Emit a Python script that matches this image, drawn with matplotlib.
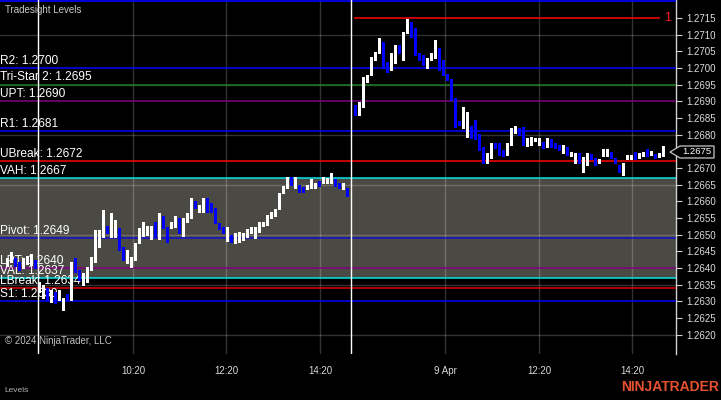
import numpy as np
import matplotlib.pyplot as plt
from matplotlib.patches import Polygon

plt.rcParams['font.family'] = ['Liberation Sans', 'DejaVu Sans']

# --- bars (5 min), tail of previous session ---
prev_open = [1.26412, 1.26424, 1.26427, 1.26415, 1.26406, 1.26418, 1.26415, 1.26421]
prev_high = [1.26430, 1.26448, 1.26430, 1.26418, 1.26430, 1.26436, 1.26442, 1.26424]
prev_low = [1.26406, 1.26418, 1.26406, 1.26394, 1.26400, 1.26412, 1.26409, 1.26400]
prev_close = [1.26424, 1.26442, 1.26412, 1.26400, 1.26424, 1.26433, 1.26436, 1.26406]

# --- session 8 Apr ---
d1_open = [1.26334, 1.26316, 1.26337, 1.26307, 1.26325, 1.26307, 1.26286, 1.26319, 1.26310, 1.26418,
           1.26391, 1.26358, 1.26367, 1.26400, 1.26430, 1.26478, 1.26508, 1.26520, 1.26505, 1.26508,
           1.26511, 1.26460, 1.26430, 1.26418, 1.26436, 1.26481, 1.26508, 1.26508, 1.26496, 1.26532,
           1.26502, 1.26550, 1.26520, 1.26523, 1.26529, 1.26547, 1.26508, 1.26541, 1.26559, 1.26598,
           1.26574, 1.26580, 1.26604, 1.26589, 1.26577, 1.26532, 1.26520, 1.26505, 1.26496, 1.26487,
           1.26490, 1.26493, 1.26502, 1.26511, 1.26502, 1.26517, 1.26529, 1.26535, 1.26553, 1.26562,
           1.26580, 1.26628, 1.26643, 1.26667, 1.26649, 1.26646, 1.26640, 1.26640, 1.26646, 1.26646,
           1.26658, 1.26658, 1.26658, 1.26661, 1.26664, 1.26652, 1.26640, 1.26637]
d1_high = [1.26358, 1.26349, 1.26340, 1.26334, 1.26328, 1.26334, 1.26310, 1.26322, 1.26418, 1.26430,
           1.26394, 1.26385, 1.26403, 1.26433, 1.26514, 1.26514, 1.26574, 1.26526, 1.26565, 1.26544,
           1.26520, 1.26463, 1.26454, 1.26433, 1.26475, 1.26520, 1.26538, 1.26526, 1.26526, 1.26538,
           1.26565, 1.26556, 1.26523, 1.26538, 1.26556, 1.26550, 1.26550, 1.26565, 1.26610, 1.26601,
           1.26589, 1.26610, 1.26610, 1.26595, 1.26580, 1.26535, 1.26523, 1.26523, 1.26499, 1.26505,
           1.26508, 1.26505, 1.26517, 1.26523, 1.26523, 1.26538, 1.26538, 1.26559, 1.26568, 1.26577,
           1.26625, 1.26646, 1.26673, 1.26673, 1.26673, 1.26649, 1.26643, 1.26649, 1.26667, 1.26655,
           1.26661, 1.26673, 1.26670, 1.26685, 1.26667, 1.26655, 1.26655, 1.26640]
d1_low = [1.26328, 1.26310, 1.26304, 1.26298, 1.26295, 1.26304, 1.26274, 1.26304, 1.26304, 1.26388,
          1.26364, 1.26349, 1.26358, 1.26394, 1.26418, 1.26463, 1.26493, 1.26505, 1.26493, 1.26493,
          1.26454, 1.26424, 1.26415, 1.26403, 1.26424, 1.26475, 1.26496, 1.26499, 1.26487, 1.26496,
          1.26487, 1.26520, 1.26478, 1.26520, 1.26523, 1.26505, 1.26496, 1.26538, 1.26550, 1.26580,
          1.26568, 1.26568, 1.26568, 1.26568, 1.26535, 1.26517, 1.26505, 1.26481, 1.26478, 1.26475,
          1.26478, 1.26484, 1.26493, 1.26505, 1.26490, 1.26508, 1.26526, 1.26529, 1.26550, 1.26556,
          1.26577, 1.26625, 1.26640, 1.26649, 1.26640, 1.26628, 1.26628, 1.26637, 1.26640, 1.26640,
          1.26646, 1.26655, 1.26655, 1.26655, 1.26646, 1.26640, 1.26637, 1.26616]
d1_close = [1.26352, 1.26340, 1.26310, 1.26328, 1.26301, 1.26328, 1.26304, 1.26307, 1.26400, 1.26394,
            1.26370, 1.26376, 1.26394, 1.26424, 1.26496, 1.26502, 1.26550, 1.26508, 1.26544, 1.26532,
            1.26466, 1.26430, 1.26445, 1.26430, 1.26466, 1.26508, 1.26526, 1.26520, 1.26517, 1.26502,
            1.26550, 1.26526, 1.26505, 1.26535, 1.26550, 1.26514, 1.26541, 1.26559, 1.26598, 1.26583,
            1.26586, 1.26604, 1.26574, 1.26571, 1.26541, 1.26520, 1.26508, 1.26514, 1.26484, 1.26499,
            1.26502, 1.26502, 1.26514, 1.26520, 1.26520, 1.26532, 1.26535, 1.26553, 1.26565, 1.26574,
            1.26619, 1.26643, 1.26667, 1.26652, 1.26667, 1.26631, 1.26631, 1.26646, 1.26661, 1.26652,
            1.26649, 1.26667, 1.26664, 1.26670, 1.26649, 1.26640, 1.26649, 1.26619]

# --- session 9 Apr ---
d2_open = [1.26886, 1.26868, 1.26904, 1.26958, 1.26979, 1.27024, 1.27045, 1.27069, 1.27012, 1.26997,
           1.27015, 1.27063, 1.27045, 1.27108, 1.27132, 1.27114, 1.27042, 1.27039, 1.27006, 1.27024,
           1.27030, 1.27054, 1.27018, 1.26979, 1.26964, 1.26907, 1.26838, 1.26838, 1.26817, 1.26823,
           1.26814, 1.26799, 1.26760, 1.26727, 1.26733, 1.26775, 1.26757, 1.26751, 1.26742, 1.26769,
           1.26811, 1.26817, 1.26820, 1.26769, 1.26775, 1.26784, 1.26781, 1.26775, 1.26769, 1.26784,
           1.26772, 1.26766, 1.26757, 1.26763, 1.26739, 1.26727, 1.26745, 1.26721, 1.26715, 1.26739,
           1.26730, 1.26718, 1.26739, 1.26742, 1.26745, 1.26730, 1.26706, 1.26700, 1.26730, 1.26730,
           1.26745, 1.26733, 1.26739, 1.26751, 1.26739, 1.26739, 1.26736, 1.26739]
d2_high = [1.26889, 1.26898, 1.26973, 1.26979, 1.27033, 1.27048, 1.27090, 1.27078, 1.27018, 1.27045,
           1.27069, 1.27069, 1.27108, 1.27147, 1.27138, 1.27120, 1.27045, 1.27039, 1.27030, 1.27045,
           1.27084, 1.27060, 1.27024, 1.26982, 1.26967, 1.26910, 1.26841, 1.26883, 1.26868, 1.26826,
           1.26844, 1.26802, 1.26763, 1.26745, 1.26775, 1.26775, 1.26775, 1.26754, 1.26775, 1.26820,
           1.26826, 1.26820, 1.26823, 1.26790, 1.26793, 1.26790, 1.26790, 1.26778, 1.26790, 1.26787,
           1.26775, 1.26769, 1.26769, 1.26763, 1.26748, 1.26745, 1.26745, 1.26733, 1.26745, 1.26742,
           1.26730, 1.26727, 1.26757, 1.26757, 1.26748, 1.26730, 1.26709, 1.26715, 1.26739, 1.26739,
           1.26748, 1.26745, 1.26748, 1.26757, 1.26751, 1.26742, 1.26745, 1.26766]
d2_low = [1.26859, 1.26859, 1.26883, 1.26958, 1.26979, 1.27024, 1.27045, 1.27000, 1.26988, 1.26994,
          1.27015, 1.27045, 1.27024, 1.27105, 1.27093, 1.27039, 1.27024, 1.27009, 1.27000, 1.27024,
          1.27030, 1.26994, 1.26979, 1.26964, 1.26904, 1.26823, 1.26829, 1.26820, 1.26793, 1.26790,
          1.26787, 1.26754, 1.26715, 1.26715, 1.26730, 1.26760, 1.26739, 1.26736, 1.26739, 1.26769,
          1.26805, 1.26799, 1.26769, 1.26766, 1.26769, 1.26781, 1.26769, 1.26760, 1.26763, 1.26763,
          1.26760, 1.26754, 1.26745, 1.26739, 1.26736, 1.26715, 1.26715, 1.26688, 1.26709, 1.26727,
          1.26709, 1.26715, 1.26736, 1.26736, 1.26730, 1.26715, 1.26688, 1.26679, 1.26727, 1.26727,
          1.26727, 1.26730, 1.26736, 1.26736, 1.26739, 1.26730, 1.26733, 1.26736]
d2_close = [1.26877, 1.26892, 1.26970, 1.26973, 1.27024, 1.27039, 1.27069, 1.27006, 1.26994, 1.27033,
            1.27060, 1.27048, 1.27090, 1.27129, 1.27096, 1.27048, 1.27027, 1.27018, 1.27018, 1.27036,
            1.27054, 1.27012, 1.26994, 1.26967, 1.26910, 1.26829, 1.26832, 1.26862, 1.26844, 1.26796,
            1.26790, 1.26760, 1.26730, 1.26742, 1.26769, 1.26763, 1.26742, 1.26739, 1.26769, 1.26811,
            1.26823, 1.26802, 1.26772, 1.26787, 1.26790, 1.26790, 1.26790, 1.26760, 1.26790, 1.26769,
            1.26760, 1.26757, 1.26769, 1.26742, 1.26745, 1.26745, 1.26718, 1.26733, 1.26742, 1.26730,
            1.26715, 1.26727, 1.26754, 1.26754, 1.26733, 1.26718, 1.26694, 1.26715, 1.26739, 1.26739,
            1.26730, 1.26742, 1.26745, 1.26739, 1.26748, 1.26733, 1.26745, 1.26748]

# --- Tradesight levels ---
level_names = ['R2', 'Tri-Star 2', 'UPT', 'R1', 'UBreak', 'VAH', 'Pivot', 'LPT', 'VAL', 'LBreak', 'S1']
level_values = [1.2700, 1.2695, 1.2690, 1.2681, 1.2672, 1.2667, 1.2649, 1.2640, 1.2637, 1.2634, 1.2630]
level_colors = ['#0000ff', '#1e7d1e', '#800080', '#0000ff', '#ff0000', '#00e5e5',
                '#1010d0', '#800080', '#00e5e5', '#e00000', '#0000ff']
r3_value = 1.2720
value_area = (1.2637, 1.2667)
hod_value = 1.2715
hod_label = '1'

# axis ticks (1.2675 sits under the last-price marker)
price_ticks = [1.2620, 1.2625, 1.2630, 1.2635, 1.2640, 1.2645, 1.2650, 1.2655, 1.2660, 1.2665,
               1.2670, 1.2680, 1.2685, 1.2690, 1.2695, 1.2700, 1.2705, 1.2710, 1.2715]
grid_prices = [1.2620, 1.2635, 1.2650, 1.2665, 1.2680, 1.2695, 1.2710]
time_labels = ['10:20', '12:20', '14:20', '9 Apr', '12:20', '14:20']

# layout: x axis in screen pixels, 4 px per bar
W, H = 721, 400
PLOT_W, PLOT_H = 676, 354
time_pos = [133, 226, 320, 445, 539, 632]
x_prev = 6.5 + 4 * np.arange(len(prev_open))
x_d1 = 38.5 + 4 * np.arange(len(d1_open))
x_d2 = 354.5 + 4 * np.arange(len(d2_open))
sess_lines = [x_d1[0] - 0.5, x_d2[0] - 3.5]

fig = plt.figure(figsize=(W / 100, H / 100), dpi=100, facecolor='black')
ax = fig.add_axes([0, 1 - PLOT_H / H, PLOT_W / W, PLOT_H / H])
ax.set_facecolor('black')
ymax = 1.27204
px = 0.00003  # price per pixel
ax.set_xlim(0, PLOT_W)
ax.set_ylim(ymax - PLOT_H * px, ymax)

# value area shading
ax.axhspan(value_area[0], value_area[1], color='#4a4944', lw=0, zorder=1)

# grid
for g in grid_prices:
    ax.axhline(g, color='white', alpha=0.2, lw=1.0, zorder=2)
for t in time_pos:
    ax.axvline(t, color='white', alpha=0.2, lw=1.0, zorder=2)

# session breaks
for s in sess_lines:
    ax.axvline(s, color='white', lw=1.0, zorder=7)

# level lines + labels
ax.axhline(r3_value, color='#0000ff', lw=1.2, zorder=3)
for name, v, c in zip(level_names, level_values, level_colors):
    ax.axhline(v, color=c, lw=1.1, zorder=3)
    ax.text(0.5, v + 1.3 * px, f'{name}: {v:.4f}', color='white', fontsize=8.6,
            ha='left', va='bottom', zorder=4, clip_on=True)

# high of day marker
ax.hlines(hod_value, x_d2[0] - 1, x_d2[-1] - 3, color='#ff0000', lw=1.1, zorder=3)
ax.text(668, hod_value, hod_label, color='#ff2020', fontsize=9, ha='center', va='center', zorder=4)


def candles(x, o, h, l, c):
    o, h, l, c = map(np.asarray, (o, h, l, c))
    col = np.where(c >= o, 'white', '#0000ff')
    ax.vlines(x, l, h, colors=col, lw=0.75, zorder=5, antialiased=False)
    bottom = np.minimum(o, c)
    height = np.maximum(np.abs(c - o), px)
    ax.bar(x, height, width=1.6, bottom=bottom, color=col, lw=0, zorder=6, antialiased=False)


candles(x_prev, prev_open, prev_high, prev_low, prev_close)
candles(x_d1, d1_open, d1_high, d1_low, d1_close)
candles(x_d2, d2_open, d2_high, d2_low, d2_close)

# axes styling
for sp in ['left', 'top', 'bottom']:
    ax.spines[sp].set_visible(False)
ax.spines['right'].set_color('#d0d0d0')
ax.spines['right'].set_linewidth(1.0)
ax.yaxis.tick_right()
ax.set_yticks(price_ticks)
ax.set_yticklabels([f'{p:.4f}' for p in price_ticks])
ax.tick_params(axis='y', colors='#d0d0d0', labelcolor='#dcdcdc', length=4, width=0.8,
               pad=3.5, labelsize=7)
ax.set_xticks(time_pos)
ax.set_xticklabels(time_labels)
ax.tick_params(axis='x', length=0, pad=9, labelsize=7, labelcolor='#d8d8d8')

# current price marker
last = d2_close[-1]
dy = 6 * px
marker = Polygon([(670, last), (680, last + dy), (714, last + dy), (714, last - dy), (680, last - dy)],
                 closed=True, facecolor='black', edgecolor='#c8c8c8', lw=0.9, zorder=10, clip_on=False)
ax.add_patch(marker)
ax.text(696.5, last, f'{last:.4f}', color='white', fontsize=6.8, ha='center', va='center',
        zorder=11, clip_on=False)

# overlay texts
fig.text(5 / W, 1 - 10 / H, 'Tradesight Levels', color='#c8c8c8', fontsize=7, ha='left', va='center')
fig.text(5 / W, 1 - 341 / H, '\u00a9 2024 NinjaTrader, LLC', color='#c0c0c0', fontsize=7,
         ha='left', va='center')
fig.text(4 / W, 1 - 391 / H, 'Levels', color='#b0b0b0', fontsize=6, ha='left', va='center')
fig.text(719 / W, 1 - 387 / H, 'NINJATRADER', color='#e8512f', fontsize=10, fontweight='bold',
         ha='right', va='center')

fig.savefig('out.png', dpi=100, facecolor='black')
